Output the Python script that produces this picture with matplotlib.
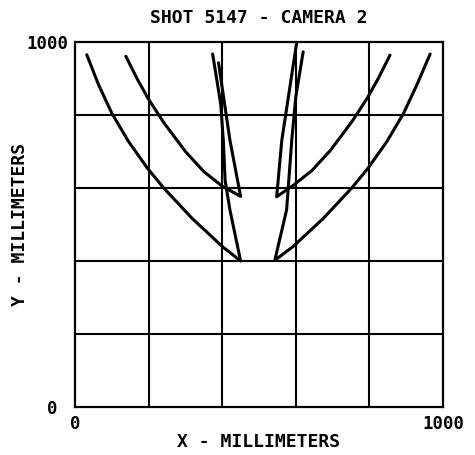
import numpy as np
import matplotlib
matplotlib.use("Agg")
import matplotlib.pyplot as plt
import matplotlib.transforms as mtransforms

# traces (x, y in millimeters)
left_outer_x = [32, 64, 100, 145, 197, 241, 318, 400, 450]
left_outer_y = [965, 883, 805, 728, 654, 600, 517, 440, 400]
left_outer_up_x = [450, 421, 408, 403, 396, 374]
left_outer_up_y = [400, 540, 620, 731, 830, 967]

left_inner_x = [138, 170, 200, 240, 300, 350, 400, 450]
left_inner_y = [961, 897, 843, 781, 700, 645, 605, 577]
left_inner_up_x = [450, 421, 390]
left_inner_up_y = [577, 731, 943]

right_outer_x = [965, 930, 893, 848, 796, 752, 675, 593, 543]
right_outer_y = [967, 885, 805, 728, 654, 600, 517, 440, 402]
right_outer_up_x = [543, 575, 589, 600, 620]
right_outer_up_y = [402, 540, 731, 850, 973]

right_inner_x = [856, 824, 794, 754, 694, 644, 594, 548]
right_inner_y = [964, 900, 846, 784, 703, 648, 608, 576]
right_inner_up_x = [548, 562, 602]
right_inner_up_y = [576, 731, 996]

traces = [
    (left_outer_x + left_outer_up_x[1:], left_outer_y + left_outer_up_y[1:]),
    (left_inner_x + left_inner_up_x[1:], left_inner_y + left_inner_up_y[1:]),
    (right_outer_x + right_outer_up_x[1:], right_outer_y + right_outer_up_y[1:]),
    (right_inner_x + right_inner_up_x[1:], right_inner_y + right_inner_up_y[1:]),
]

grid_pos = [200, 400, 600, 800]
tick_pos = [0, 1000]
tick_lab = ['0', '1000']

font = 'DejaVu Sans Mono'

fig = plt.figure(figsize=(4.75, 4.55), dpi=100)
ax = fig.add_axes([75/475, 48/455, 368/475, 365/455])

for xs, ys in traces:
    ax.plot(xs, ys, color='black', lw=2.2, solid_joinstyle='round', solid_capstyle='round')

ax.set_xlim(0, 1000)
ax.set_ylim(0, 1000)
ax.set_xticks(tick_pos)
ax.set_xticklabels(tick_lab)
ax.set_yticks(tick_pos)
ax.set_yticklabels(tick_lab)
ax.set_xticks(grid_pos, minor=True)
ax.set_yticks(grid_pos, minor=True)
ax.grid(which='minor', color='black', lw=1.5)
ax.tick_params(which='both', length=0)
ax.tick_params(axis='x', pad=6)
ax.tick_params(axis='y', pad=5)
for lab in ax.get_xticklabels() + ax.get_yticklabels():
    lab.set_fontfamily(font)
    lab.set_fontweight('bold')
    lab.set_fontsize(12.5)
# the plotter put the y "0" a little further left
ylab0 = ax.get_yticklabels()[0]
ylab0.set_transform(ylab0.get_transform() +
                    mtransforms.ScaledTranslation(-0.11, 0, fig.dpi_scale_trans))
for s in ax.spines.values():
    s.set_linewidth(1.6)

ax.set_title('SHOT 5147 - CAMERA 2', fontfamily=font, fontweight='bold', fontsize=13, pad=14)
ax.set_xlabel('X - MILLIMETERS', fontfamily=font, fontweight='bold', fontsize=13, labelpad=0)
ax.set_ylabel('Y - MILLIMETERS', fontfamily=font, fontweight='bold', fontsize=13)
ax.yaxis.set_label_coords(-0.125, 0.5)

fig.savefig('out.png', dpi=100)
